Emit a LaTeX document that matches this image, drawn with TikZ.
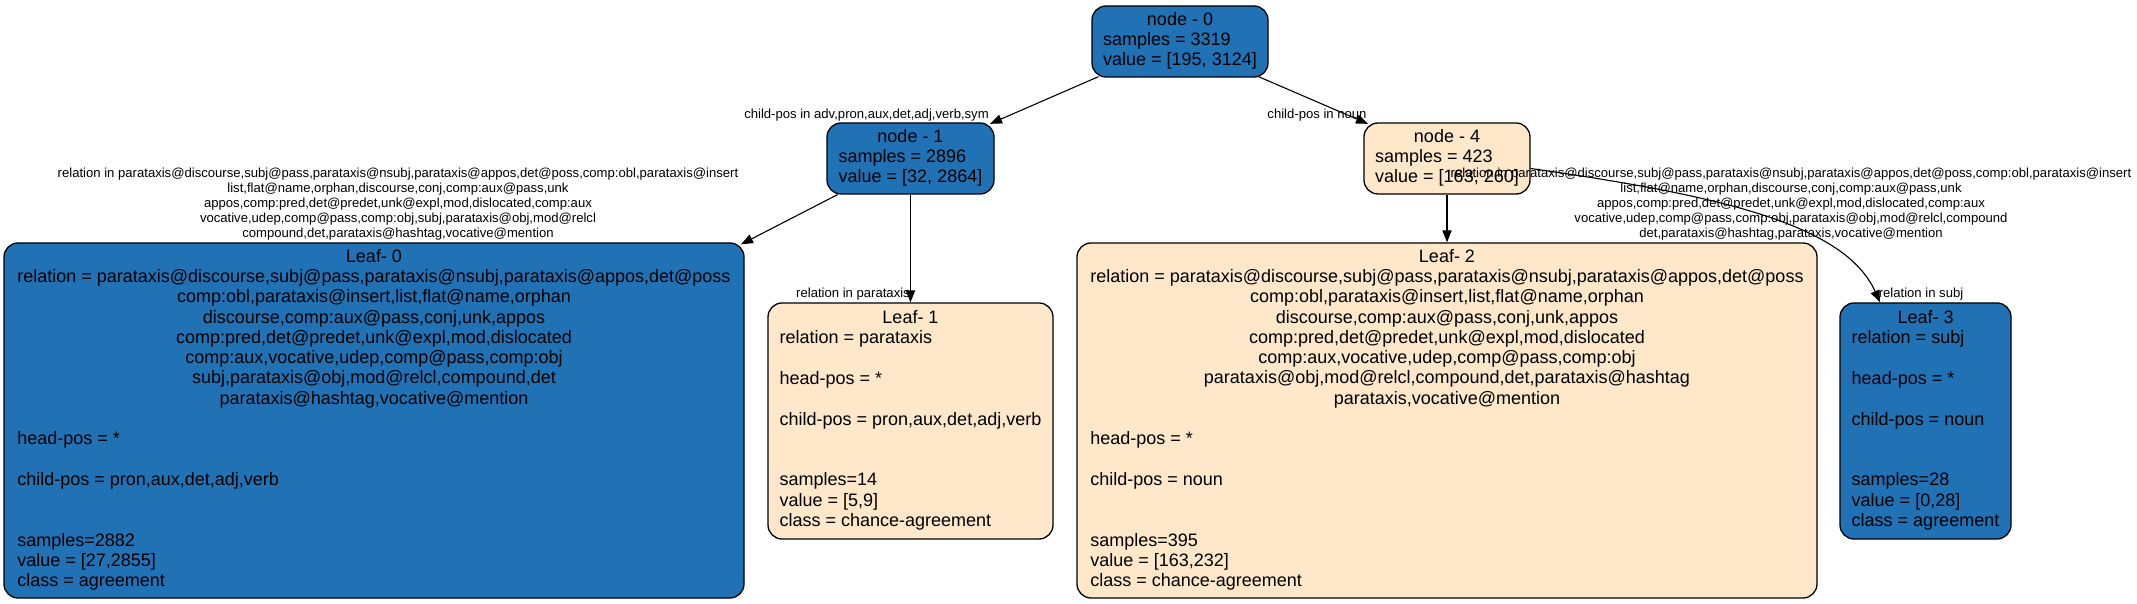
\documentclass[tikz,border=0pt]{standalone}
\usepackage{fontspec}
\setmainfont{Liberation Sans}
\usetikzlibrary{arrows.meta,calc}
\definecolor{nblue}{RGB}{33,113,181}
\definecolor{ncream}{RGB}{254,232,201}
\newcommand{\nodefont}{\fontsize{9}{10.15}\selectfont}
\newcommand{\edgefont}{\fontsize{6.55}{7.5}\selectfont}
\newcommand{\cl}[1]{\multicolumn{1}{@{}c@{}}{#1}}
\tikzset{
  tbox/.style={draw=black, line width=0.65pt, rounded corners=7pt, inner sep=0pt, font=\nodefont},
  bluebox/.style={tbox, fill=nblue},
  creambox/.style={tbox, fill=ncream},
  elabel/.style={inner sep=0pt, font=\edgefont},
  conn/.style={line width=0.55pt, -{Triangle[length=6pt,width=4.6pt]}}
}
\begin{document}
\begin{tikzpicture}[x=0.5pt,y=-0.5pt]
\useasboundingbox (0,0) rectangle (2137,604);
% internal nodes
\node[bluebox, minimum width=88pt, minimum height=35.5pt] (n0) at (1180,41.5)
  {\begin{tabular}{@{}l@{}}\cl{node - 0}\\ samples = 3319\\ value = [195, 3124]\end{tabular}};
\node[bluebox, minimum width=83.5pt, minimum height=35.5pt] (n1) at (910.5,158.5)
  {\begin{tabular}{@{}l@{}}\cl{node - 1}\\ samples = 2896\\ value = [32, 2864]\end{tabular}};
\node[creambox, minimum width=83pt, minimum height=35.5pt] (n4) at (1447,158.5)
  {\begin{tabular}{@{}l@{}}\cl{node - 4}\\ samples = 423\\ value = [163, 260]\end{tabular}};
% leaves
\node[bluebox, minimum width=370pt, minimum height=177.5pt] (l0) at (374,420.5)
  {\begin{tabular}{@{}l@{}}\cl{Leaf- 0}\\
   relation = parataxis@discourse,subj@pass,parataxis@nsubj,parataxis@appos,det@poss\\
   \cl{comp:obl,parataxis@insert,list,flat@name,orphan}\\
   \cl{discourse,comp:aux@pass,conj,unk,appos}\\
   \cl{comp:pred,det@predet,unk@expl,mod,dislocated}\\
   \cl{comp:aux,vocative,udep,comp@pass,comp:obj}\\
   \cl{subj,parataxis@obj,mod@relcl,compound,det}\\
   \cl{parataxis@hashtag,vocative@mention}\\
   \\
   head-pos = *\\
   \\
   child-pos = pron,aux,det,adj,verb\\
   \\
   \\
   samples=2882\\
   value = [27,2855]\\
   class = agreement\end{tabular}};
\node[creambox, minimum width=142.5pt, minimum height=118pt] (l1) at (910.5,421)
  {\begin{tabular}{@{}l@{}}\cl{Leaf- 1}\\
   relation = parataxis\\
   \\
   head-pos = *\\
   \\
   child-pos = pron,aux,det,adj,verb\\
   \\
   \\
   samples=14\\
   value = [5,9]\\
   class = chance-agreement\end{tabular}};
\node[creambox, minimum width=370pt, minimum height=177.5pt] (l2) at (1447,420.5)
  {\begin{tabular}{@{}l@{}}\cl{Leaf- 2}\\
   relation = parataxis@discourse,subj@pass,parataxis@nsubj,parataxis@appos,det@poss\\
   \cl{comp:obl,parataxis@insert,list,flat@name,orphan}\\
   \cl{discourse,comp:aux@pass,conj,unk,appos}\\
   \cl{comp:pred,det@predet,unk@expl,mod,dislocated}\\
   \cl{comp:aux,vocative,udep,comp@pass,comp:obj}\\
   \cl{parataxis@obj,mod@relcl,compound,det,parataxis@hashtag}\\
   \cl{parataxis,vocative@mention}\\
   \\
   head-pos = *\\
   \\
   child-pos = noun\\
   \\
   \\
   samples=395\\
   value = [163,232]\\
   class = chance-agreement\end{tabular}};
\node[bluebox, minimum width=85.5pt, minimum height=118pt] (l3) at (1925.5,421)
  {\begin{tabular}{@{}l@{}}\cl{Leaf- 3}\\
   relation = subj\\
   \\
   head-pos = *\\
   \\
   child-pos = noun\\
   \\
   \\
   samples=28\\
   value = [0,28]\\
   class = agreement\end{tabular}};
% connectors
\draw[conn] ($(n0.south)+(-81.5,-1)$) -- ($(n1.north)+(79.5,1.5)$);
\draw[conn] ($(n0.south)+(78.5,-1)$) -- ($(n4.north)+(-79,1.5)$);
\draw[conn] ($(n1.south)+(-73,0)$) -- ($(l0.north)+(367,2)$);
\draw[conn] (n1.south) -- (l1.north);
\draw[conn] (n4.south) -- (l2.north);
\draw[conn] ($(n4.east)+(0,10)$) .. controls +(190,27) and +(-35,-78) .. ($(l3.north)+(-45.5,0)$);
% edge labels
\node[elabel] (e01) at (866.5,115.5) {child-pos in adv,pron,aux,det,adj,verb,sym};
\node[elabel] (e04) at (1317,115.5) {child-pos in noun};
\node[elabel] (e10) at (398,205)
  {\begin{tabular}{@{}c@{}}relation in parataxis@discourse,subj@pass,parataxis@nsubj,parataxis@appos,det@poss,comp:obl,parataxis@insert\\
   list,flat@name,orphan,discourse,conj,comp:aux@pass,unk\\
   appos,comp:pred,det@predet,unk@expl,mod,dislocated,comp:aux\\
   vocative,udep,comp@pass,comp:obj,subj,parataxis@obj,mod@relcl\\
   compound,det,parataxis@hashtag,vocative@mention\end{tabular}};
\node[elabel] (e11) at (853,294.5) {relation in parataxis};
\node[elabel] (e42) at (1791,205)
  {\begin{tabular}{@{}c@{}}relation in parataxis@discourse,subj@pass,parataxis@nsubj,parataxis@appos,det@poss,comp:obl,parataxis@insert\\
   list,flat@name,orphan,discourse,conj,comp:aux@pass,unk\\
   appos,comp:pred,det@predet,unk@expl,mod,dislocated,comp:aux\\
   vocative,udep,comp@pass,comp:obj,parataxis@obj,mod@relcl,compound\\
   det,parataxis@hashtag,parataxis,vocative@mention\end{tabular}};
\node[elabel] (e43) at (1921,294) {relation in subj};
\end{tikzpicture}
\end{document}
